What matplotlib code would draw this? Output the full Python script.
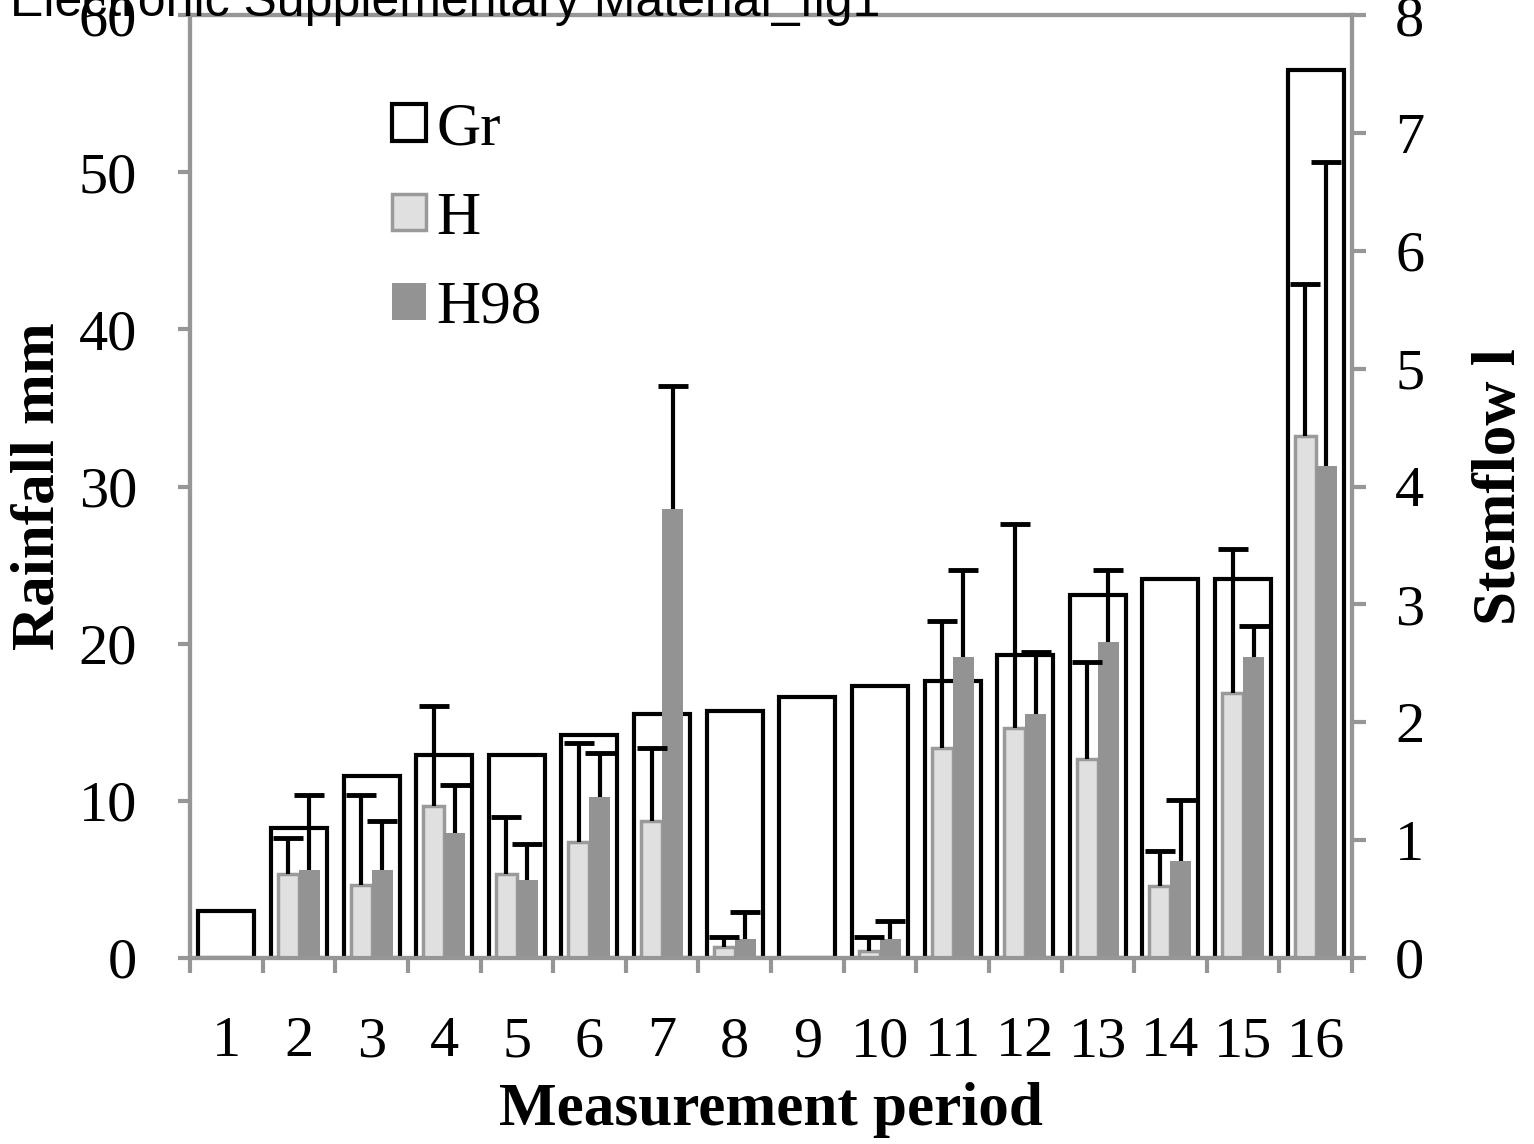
import matplotlib
matplotlib.use('Agg')
import matplotlib.pyplot as plt
import numpy as np

plt.rcParams['font.family'] = 'Liberation Serif'

# data
periods = np.arange(1, 17)
gr = [3.0, 8.3, 11.6, 12.9, 12.9, 14.2, 15.5, 15.7, 16.6, 17.3, 17.6, 19.25, 23.1, 24.1, 24.1, 56.5]
h = [0, 0.71, 0.62, 1.29, 0.71, 0.98, 1.16, 0.09, 0, 0.06, 1.78, 1.95, 1.69, 0.61, 2.25, 4.43]
h_sd = [np.nan, 0.31, 0.76, 0.85, 0.49, 0.84, 0.62, 0.09, np.nan, 0.12, 1.08, 1.73, 0.82, 0.30, 1.22, 1.29]
h98 = [0, 0.75, 0.75, 1.06, 0.66, 1.37, 3.81, 0.16, 0, 0.16, 2.55, 2.07, 2.68, 0.82, 2.55, 4.17]
h98_sd = [np.nan, 0.63, 0.41, 0.41, 0.31, 0.37, 1.04, 0.23, np.nan, 0.15, 0.74, 0.53, 0.61, 0.52, 0.27, 2.58]

grey = '#969696'

fig = plt.figure(figsize=(15.34, 11.44), dpi=100)
ax = fig.add_axes([190 / 1534, 1 - 958 / 1144, 1162 / 1534, 943 / 1144])
ax2 = ax.twinx()

b_gr = ax.bar(periods, gr, width=0.77, color='white', edgecolor='black', linewidth=3, label='Gr')
b_h = ax2.bar(periods - 0.145, h, width=0.29, color='#e0e0e0', edgecolor='#9a9a9a', linewidth=2.5, label='H')
b_h98 = ax2.bar(periods + 0.145, h98, width=0.29, color='#939393', edgecolor='#939393', linewidth=0, label='H98')


def upper_err(xpos, vals, sd):
    # error bar going up only, no cap at the bottom
    vals, sd = np.array(vals), np.array(sd)
    m = ~np.isnan(sd)
    eb = ax2.errorbar(xpos[m], vals[m], yerr=[np.zeros(m.sum()), sd[m]],
                      fmt='none', ecolor='black', elinewidth=3, capsize=11, capthick=3.5)
    eb[1][0].set_visible(False)


upper_err(periods - 0.145, h, h_sd)
upper_err(periods + 0.145, h98, h98_sd)

ax.set_xlim(0.5, 16.5)
ax.set_ylim(0, 60)
ax2.set_ylim(0, 8)
ax.set_yticks(range(0, 61, 10))
ax2.set_yticks(range(0, 9))
ax.set_xticks(periods)
ax.set_xticks(np.arange(0.5, 17, 1), minor=True)

for a in (ax, ax2):
    for s in a.spines.values():
        s.set_color(grey)
        s.set_linewidth(3)

ax.tick_params(axis='x', which='major', length=0, pad=42, labelsize=42)
ax.tick_params(axis='x', which='minor', length=11, width=3, color=grey)
ax.tick_params(axis='y', length=9, width=3, color=grey, pad=29, labelsize=42)
ax2.tick_params(axis='y', length=10, width=3, color=grey, pad=21, labelsize=42)

ax.set_xlabel('Measurement period', fontsize=44, fontweight='bold', va='baseline')
ax.xaxis.set_label_coords(0.5, -0.177)
ax.set_ylabel('Rainfall mm', fontsize=44, fontweight='bold', va='center')
ax.yaxis.set_label_coords(-0.13, 0.5)
ax2.set_ylabel('Stemflow l', fontsize=44, fontweight='bold', va='center')
ax2.yaxis.set_label_coords(1.127, 0.5)

ax2.legend([b_gr, b_h, b_h98], ['Gr', 'H', 'H98'], loc='upper left',
           bbox_to_anchor=(392 / 1534, 1 - 102 / 1144), bbox_transform=fig.transFigure,
           frameon=False, fontsize=44, handlelength=0.55, handleheight=0.55,
           handletextpad=0.18, labelspacing=0.55, borderpad=0, borderaxespad=0)

fig.text(10 / 1534, 1 - 16 / 1144, 'Electronic Supplementary Material_fig1',
         fontfamily='Liberation Sans', fontsize=36, va='baseline')

fig.savefig('out.png', dpi=100)
